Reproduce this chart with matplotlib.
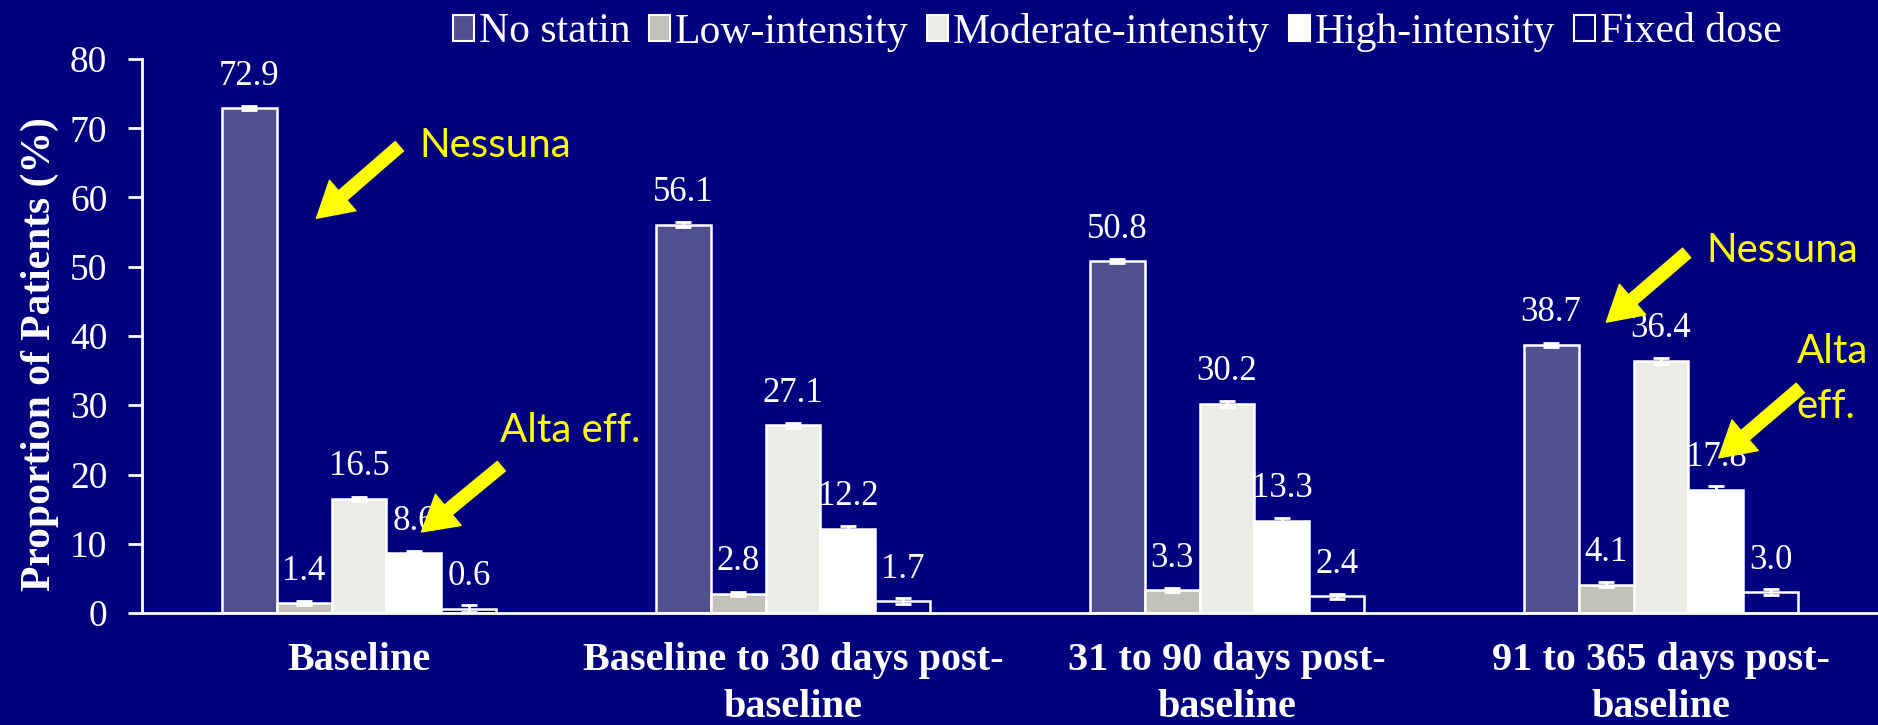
import numpy as np
import matplotlib
matplotlib.use("Agg")
import matplotlib.pyplot as plt
from matplotlib.patches import Patch

periods = ["Baseline", "Baseline to 30 days post-\nbaseline",
           "31 to 90 days post-\nbaseline", "91 to 365 days post-\nbaseline"]
series_names = ["No statin", "Low-intensity", "Moderate-intensity", "High-intensity", "Fixed dose"]

no_statin = [72.9, 56.1, 50.8, 38.7]
low_intensity = [1.4, 2.8, 3.3, 4.1]
moderate_intensity = [16.5, 27.1, 30.2, 36.4]
high_intensity = [8.6, 12.2, 13.3, 17.8]
fixed_dose = [0.6, 1.7, 2.4, 3.0]

# small confidence bars on top of each column
no_statin_err = [0.3, 0.3, 0.3, 0.3]
low_intensity_err = [0.3, 0.3, 0.3, 0.4]
moderate_intensity_err = [0.3, 0.4, 0.4, 0.4]
high_intensity_err = [0.4, 0.4, 0.4, 0.5]
fixed_dose_err = [0.5, 0.4, 0.4, 0.4]

series = [no_statin, low_intensity, moderate_intensity, high_intensity, fixed_dose]
errors = [no_statin_err, low_intensity_err, moderate_intensity_err, high_intensity_err, fixed_dose_err]

BG = "#00007f"
fills = ["#50508e", "#c2c2ba", "#ecece6", "#ffffff", BG]
SERIF = "Liberation Serif"

fig = plt.figure(figsize=(18.78, 7.25), dpi=100, facecolor=BG)
ax = fig.add_axes([142 / 1878, 1 - 613 / 725, 1 - 142 / 1878, (613 - 59) / 725])
ax.set_facecolor(BG)

x = np.arange(len(periods))
width = 0.1267

for k, (vals, errs) in enumerate(zip(series, errors)):
    pos = x + (k - 2) * width
    ax.bar(pos, vals, width, color=fills[k], edgecolor="white", linewidth=1.8, zorder=2)
    ax.errorbar(pos, vals, yerr=errs, fmt="none", ecolor="white", elinewidth=2,
                capsize=6, capthick=2, zorder=3)
    for px, v in zip(pos, vals):
        ax.annotate(f"{v:.1f}", (px, v), xytext=(0, 17), textcoords="offset points",
                    ha="center", va="baseline", color="white", fontsize=25,
                    family=SERIF, zorder=4)

ax.set_xlim(-0.5, 3.5)
ax.set_ylim(0, 80)
ax.set_yticks(range(0, 81, 10))
ax.set_xticks(x)
ax.set_xticklabels(periods, fontsize=29, fontweight="bold", family=SERIF, color="white",
                   linespacing=1.35)
ax.tick_params(axis="x", length=0, pad=21)
ax.tick_params(axis="y", length=10, width=2, color="white", pad=15, labelsize=27,
               labelcolor="white")
for lab in ax.get_yticklabels():
    lab.set_family(SERIF)

for side in ["top", "right"]:
    ax.spines[side].set_visible(False)
for side in ["left", "bottom"]:
    ax.spines[side].set_color("white")
    ax.spines[side].set_linewidth(2)

ax.set_ylabel("Proportion of Patients (%)", fontsize=30, fontweight="bold",
              family=SERIF, color="white")
ax.yaxis.set_label_coords(-0.048, 0.468)

handles = [Patch(facecolor=f, edgecolor="white", linewidth=1.5) for f in fills]
fig.legend(handles, series_names, loc="center left", bbox_to_anchor=(453 / 1878, 1 - 32 / 725),
           ncol=5, frameon=False, borderpad=0, borderaxespad=0, handlelength=0.5,
           handleheight=0.6, handletextpad=0.12, columnspacing=0.45,
           prop={"family": SERIF, "size": 30}, labelcolor="white")

# yellow callouts
YEL = "#ffff00"
arrow = dict(arrowstyle="simple,head_length=1.25,head_width=1.45,tail_width=0.45",
             mutation_scale=20, fc=YEL, ec=YEL, shrinkA=0, shrinkB=0)
callouts = [
    ((-0.098, 57.0), (0.093, 67.4)),
    ((0.144, 11.7), (0.328, 21.2)),
    ((2.874, 42.0), (3.059, 52.0)),
    ((3.133, 22.4), (3.321, 32.5)),
]
for head, tail in callouts:
    ax.annotate("", xy=head, xytext=tail, arrowprops=arrow, zorder=6)

note = dict(color=YEL, fontsize=29, family="Lato", ha="left", va="baseline", zorder=6)
ax.text(0.139, 65.8, "Nessuna", **note)
ax.text(0.324, 24.7, "Alta eff.", **note)
ax.text(3.105, 50.7, "Nessuna", **note)
ax.text(3.312, 36.1, "Alta", **note)
ax.text(3.312, 28.2, "eff.", **note)

fig.savefig("out.png", dpi=100, facecolor=BG)
